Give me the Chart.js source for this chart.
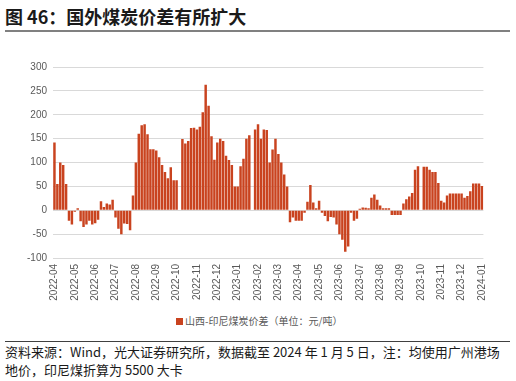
<!DOCTYPE html>
<html>
<head>
<meta charset="utf-8">
<script src="https://cdn.jsdelivr.net/npm/chart.js@4/dist/chart.umd.min.js"></script>
<style>
  body { margin: 0; width: 516px; height: 381px; background: #fff; position: relative; overflow: hidden;
         font-family: "Noto Sans CJK SC", "Liberation Sans", sans-serif; }
  .title { position: absolute; left: 5px; top: 3px; font-size: 18px; font-weight: bold; color: #1a1a1a; }
  .title-line { position: absolute; left: 5px; top: 30px; width: 505px; height: 2px; background: #808080; }
  .chart-box { position: absolute; left: 0; top: 55px; width: 500px; height: 250px; }
  .legend { position: absolute; top: 313px; left: 176px; font-size: 10px; color: #595959; }
  .legend span { display: inline-block; width: 7px; height: 7px; background: #C9431F; margin-right: 2px; }
  .foot-line { position: absolute; left: 5px; top: 341px; width: 505px; height: 1px; background: #404040; }
  .foot { position: absolute; left: 5px; top: 343px; font-size: 13px; line-height: 18px; color: #1a1a1a; }
</style>
</head>
<body>
<div class="title">图 46：国外煤炭价差有所扩大</div>
<div class="title-line"></div>
<div class="chart-box"><canvas id="myChart" width="500" height="250"></canvas></div>
<div class="legend"><span></span>山西-印尼煤炭价差（单位：元/吨）</div>
<div class="foot-line"></div>
<div class="foot">资料来源：Wind，光大证券研究所，数据截至 2024 年 1 月 5 日，注：均使用广州港场<br>地价，印尼煤折算为 5500 大卡</div>

<script>
// month tick labels, one every 7 points
const months = ["2022-04", "2022-05", "2022-06", "2022-07", "2022-08", "2022-09", "2022-10",
  "2022-11", "2022-12", "2023-01", "2023-02", "2023-03", "2023-04", "2023-05", "2023-06",
  "2023-07", "2023-08", "2023-09", "2023-10", "2023-11", "2023-12", "2024-01"];
const pointsPerMonth = 7;

// 山西-印尼煤炭价差 (元/吨); null = holiday gap
const spread = [
  142, 55, 100, 95, 55, -22, -30, -3, 4, -23, -35, -30, -22, -30,
  -27, -20, 19, 7, 14, 12, 22, -15, -39, -50, -28, -29, -42, 31,
  100, 160, 178, 180, 159, 128, 128, 125, 111, 95, 80, 67, 90, 63,
  63, null, 149, 140, 145, 172, 173, 169, 175, 205, 263, 219, 155, 106,
  142, 150, 145, 114, 105, 95, 50, 50, 92, 108, 150, 157, null, 169,
  180, 150, 169, 168, 100, 127, 150, 118, 100, 75, 50, -25, -15, -22,
  -22, -22, -5, 18, 53, 16, 4, 20, -5, -12, -23, -14, -15, -30,
  -50, -62, -87, -76, -5, -22, -18, 3, 6, 5, 4, 26, 33, 22,
  10, 4, 4, 4, -10, -10, -10, -10, 14, 23, 29, 36, 85, 92,
  null, 91, 91, 85, 80, 80, 57, 20, 16, 31, 35, 35, 35, 35,
  35, 26, 30, 40, 56, 56, 56, 51
];

const yTicks = [-100, -50, 0, 50, 100, 150, 200, 250, 300];

document.addEventListener("DOMContentLoaded", function(){

  const labels = spread.map((v, i) => (i % pointsPerMonth === 0) ? months[i / pointsPerMonth] : "");

  new Chart(document.getElementById("myChart"), {
    type: "bar",
    data: {
      labels: labels,
      datasets: [{
        label: "山西-印尼煤炭价差（单位：元/吨）",
        data: spread,
        backgroundColor: "#C9431F",
        barPercentage: 0.85,
        categoryPercentage: 1.0
      }]
    },
    options: {
      responsive: false,
      animation: false,
      maintainAspectRatio: false,
      layout: { padding: { top: 5, right: 16, left: 0, bottom: 0 } },
      plugins: { legend: { display: false }, tooltip: { enabled: false } },
      scales: {
        x: {
          grid: { display: false, drawTicks: false },
          border: { display: false },
          afterFit: (s) => { s.height = 47; },
          ticks: {
            autoSkip: false,
            maxRotation: 90,
            minRotation: 90,
            padding: 6,
            color: "#595959",
            font: { family: "Liberation Sans", size: 10 }
          }
        },
        y: {
          min: yTicks[0],
          max: yTicks[yTicks.length - 1],
          afterFit: (s) => { s.width = 53; },
          afterBuildTicks: (s) => { s.ticks = yTicks.map(v => ({ value: v })); },
          grid: { color: "#d9d9d9", lineWidth: 1, drawTicks: false },
          border: { display: false },
          ticks: {
            padding: 6,
            color: "#595959",
            font: { family: "Liberation Sans", size: 10 }
          }
        }
      }
    }
  });
});
</script>
</body>
</html>
